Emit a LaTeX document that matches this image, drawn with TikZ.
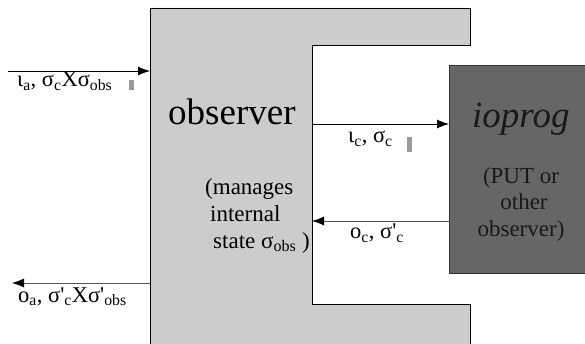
\documentclass[tikz,border=0pt]{standalone}
\usepackage{fontspec}
\setmainfont{Liberation Serif}
\usetikzlibrary{arrows.meta,calc,positioning}

\definecolor{obsgray}{HTML}{CCCCCC}
\definecolor{progdark}{HTML}{666666}
\definecolor{wiregray}{HTML}{555555}
\newcommand{\q}{\textquotesingle}

\begin{document}
\begin{tikzpicture}[x=1pt,y=-1pt,>={Latex[length=12pt,width=9pt]},
  big/.style={font=\fontsize{37}{40}\selectfont, inner sep=0pt, anchor=base west},
  small/.style={font=\fontsize{23}{26.5}\selectfont, inner sep=0pt},
  lbl/.style={font=\fontsize{22.5}{24}\selectfont, inner sep=0pt, anchor=base west},
  tick/.style={fill=black!40}]
  \tikzstyle{wire}=[->, line width=0.8pt]
  \tikzstyle{back}=[-{Latex[length=12pt,width=9pt,color=black]}, line width=0.8pt, draw=wiregray]

  \useasboundingbox (0,0) rectangle (585,344);
  \begin{scope}
    \clip (0,0) rectangle (585,344);
    % the observer block, open towards the right
    \fill[obsgray] (150,8) -- (470,8) -- (470,45) -- (312,45) -- (312,304)
      -- (470,304) -- (470,360) -- (150,360) -- cycle;
    \draw[line width=0.8pt] (150,360) -- (150,8) -- (470,8) -- (470,45) -- (312,45)
      -- (312,304) -- (470,304) -- (470,360);
    \node[draw=black!80, fill=progdark, minimum width=160, minimum height=208,
      anchor=north west, inner sep=0pt] (prog) at (449,65) {};
  \end{scope}
  \coordinate (obsleft) at (150,0);
  \coordinate (obsinner) at (312,0);

  \node[big] (obs) at (168,125) {observer};
  \node[big, font=\fontsize{37}{40}\selectfont\itshape, text=black!90] (name) at (472,128) {ioprog};
  \node[small, align=center, text=black!90, anchor=north] (put) at (521,167)
    {(PUT or\\ \hspace*{6pt}other\\ observer)};

  \node[small, anchor=base west] (m1) at (205,195) {(manages};
  \node[small, anchor=base west] (m2) at (210,222) {internal};
  \node[small, anchor=base west] (m3) at (213,248) {state σ\textsubscript{obs} )};

  % inputs and outputs
  \coordinate (ia) at (8,71);
  \coordinate (oa) at (12,283);
  \coordinate (ic) at (0,124);
  \coordinate (oc) at (0,221);
  \draw[wire] (ia) -- (ia -| obsleft);
  \draw[back] (oa -| obsleft) -- (oa);
  \draw[wire] (ic -| obsinner) -- (ic -| prog.west);
  \draw[back] (oc -| prog.west) -- (oc -| obsinner);

  \node[lbl] (la) at (17,87) {ι\textsubscript{a}, σ\textsubscript{c}Xσ\textsubscript{obs}};
  \node[lbl] (lo) at (18,302) {o\textsubscript{a}, σ\q\textsubscript{c}Xσ\q\textsubscript{obs}};
  \node[lbl] (lc) at (348,143) {ι\textsubscript{c}, σ\textsubscript{c}};
  \node[lbl] (lo2) at (350,239) {o\textsubscript{c}, σ\q\textsubscript{c}};
  \fill[tick] (129,80) rectangle (134,90);
  \fill[tick] (407,137) rectangle (412,152);
\end{tikzpicture}
\end{document}
